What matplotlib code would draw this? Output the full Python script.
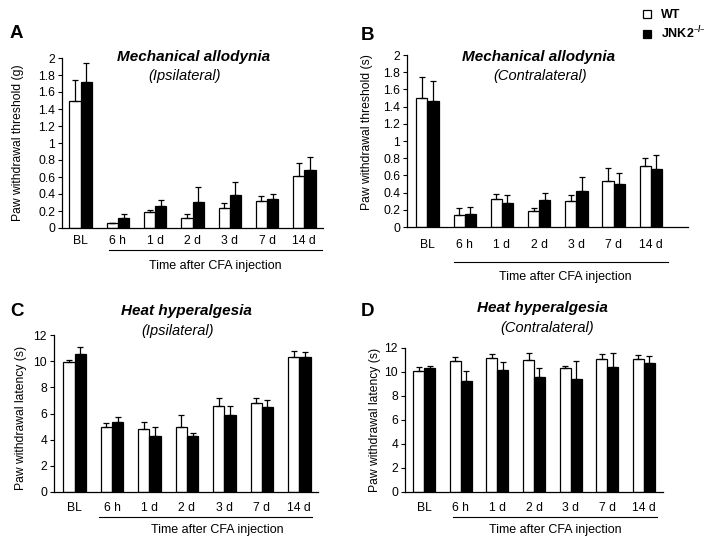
import matplotlib
matplotlib.use("Agg")
import matplotlib.pyplot as plt
import matplotlib.transforms as mtransforms
from matplotlib.patches import Patch
import numpy as np

plt.rcParams['font.family'] = ['Liberation Sans', 'DejaVu Sans']
plt.rcParams['mathtext.default'] = 'regular'

categories = ["BL", "6 h", "1 d", "2 d", "3 d", "7 d", "14 d"]
series_names = ["WT", "JNK2$^{\u2013/\u2013}$"]

# Panel A: mechanical allodynia, ipsilateral (g)
a_wt = [1.50, 0.055, 0.19, 0.12, 0.235, 0.32, 0.61]
a_wt_err = [0.24, 0.008, 0.02, 0.04, 0.06, 0.06, 0.15]
a_ko = [1.72, 0.12, 0.255, 0.31, 0.385, 0.34, 0.68]
a_ko_err = [0.22, 0.04, 0.075, 0.17, 0.16, 0.06, 0.155]

# Panel B: mechanical allodynia, contralateral
b_wt = [1.50, 0.143, 0.325, 0.19, 0.30, 0.53, 0.708]
b_wt_err = [0.245, 0.074, 0.055, 0.027, 0.067, 0.155, 0.092]
b_ko = [1.466, 0.155, 0.282, 0.317, 0.414, 0.50, 0.677]
b_ko_err = [0.234, 0.081, 0.093, 0.083, 0.162, 0.123, 0.166]

# Panel C: heat hyperalgesia, ipsilateral (s)
c_wt = [9.93, 5.0, 4.8, 5.0, 6.54, 6.77, 10.34]
c_wt_err = [0.15, 0.31, 0.56, 0.85, 0.61, 0.45, 0.41]
c_ko = [10.52, 5.36, 4.26, 4.26, 5.92, 6.51, 10.29]
c_ko_err = [0.53, 0.41, 0.72, 0.26, 0.62, 0.56, 0.38]

# Panel D: heat hyperalgesia, contralateral (s)
d_wt = [10.06, 10.88, 11.19, 10.97, 10.33, 11.05, 11.05]
d_wt_err = [0.38, 0.39, 0.33, 0.63, 0.19, 0.47, 0.39]
d_ko = [10.30, 9.25, 10.14, 9.56, 9.45, 10.44, 10.75]
d_ko_err = [0.22, 0.83, 0.66, 0.74, 1.43, 1.11, 0.58]

mech_ticks = [0, 0.2, 0.4, 0.6, 0.8, 1, 1.2, 1.4, 1.6, 1.8, 2]
mech_ticklabels = ["0", "0.2", "0.4", "0.6", "0.8", "1", "1.2", "1.4", "1.6", "1.8", "2"]
heat_ticks = [0, 2, 4, 6, 8, 10, 12]
heat_ticklabels = ["0", "2", "4", "6", "8", "10", "12"]

W, H = 715, 547
fig = plt.figure(figsize=(W / 100, H / 100), dpi=100)

def rect(l, r, t, b):
    return [l / W, 1 - b / H, (r - l) / W, (b - t) / H]

def px(x):
    return x / W

def py(y):
    return 1 - y / H

panels = [
    dict(rect=rect(62, 323, 58, 228), wt=a_wt, we=a_wt_err, ko=a_ko, ke=a_ko_err,
         ylim=(0, 2), ticks=mech_ticks, tl=mech_ticklabels, xlim=(-0.5, 6.5),
         ylabel="Paw withdrawal threshold (g)", ylc=(-0.146, 0.5), pad=5,
         br=(0.75, 6.48, -0.129), xl=(0.586, -0.224),
         t1="Mechanical allodynia", t1p=(194, 57), t2="(Ipsilateral)", t2p=(185, 76),
         letter="A", lp=(16, 33)),
    dict(rect=rect(407, 688, 55, 227), wt=b_wt, we=b_wt_err, ko=b_ko, ke=b_ko_err,
         ylim=(0, 2), ticks=mech_ticks, tl=mech_ticklabels, xlim=(-0.55, 7.0),
         ylabel="Paw withdrawal threshold (s)", ylc=(-0.121, 0.55), pad=8.5,
         br=(0.7, 6.46, -0.203), xl=(0.562, -0.291),
         t1="Mechanical allodynia", t1p=(539, 57), t2="(Contralateral)", t2p=(540, 76),
         letter="B", lp=(368, 35)),
    dict(rect=rect(54, 318, 335, 492), wt=c_wt, we=c_wt_err, ko=c_ko, ke=c_ko_err,
         ylim=(0, 12), ticks=heat_ticks, tl=heat_ticklabels, xlim=(-0.55, 6.5),
         ylabel="Paw withdrawal latency (s)", ylc=(-0.102, 0.47), pad=7.5,
         br=(0.64, 6.35, -0.159), xl=(0.617, -0.242),
         t1="Heat hyperalgesia", t1p=(186, 311), t2="(Ipsilateral)", t2p=(178, 331),
         letter="C", lp=(17, 312)),
    dict(rect=rect(405, 663, 348, 492), wt=d_wt, we=d_wt_err, ko=d_ko, ke=d_ko_err,
         ylim=(0, 12), ticks=heat_ticks, tl=heat_ticklabels, xlim=(-0.52, 6.52),
         ylabel="Paw withdrawal latency (s)", ylc=(-0.093, 0.5), pad=7.5,
         br=(0.79, 6.35, -0.174), xl=(0.581, -0.264),
         t1="Heat hyperalgesia", t1p=(542, 308), t2="(Contralateral)", t2p=(547, 328),
         letter="D", lp=(368, 311)),
]

x = np.arange(len(categories))
bw = 0.3
for p in panels:
    ax = fig.add_axes(p["rect"])
    ax.bar(x - bw / 2, p["wt"], bw, color="white", edgecolor="black", linewidth=0.9,
           yerr=[np.zeros(len(x)), p["we"]], capsize=2.5,
           error_kw=dict(elinewidth=0.9, capthick=0.9, ecolor="black"), zorder=2)
    ax.bar(x + bw / 2, p["ko"], bw, color="black", edgecolor="black", linewidth=0.9,
           yerr=[np.zeros(len(x)), p["ke"]], capsize=2.5,
           error_kw=dict(elinewidth=0.9, capthick=0.9, ecolor="black"), zorder=2)
    ax.set_xlim(*p["xlim"])
    ax.set_ylim(*p["ylim"])
    ax.set_yticks(p["ticks"])
    ax.set_yticklabels(p["tl"], fontsize=8.7)
    ax.set_xticks(x)
    ax.set_xticklabels(categories, fontsize=8.7)
    ax.tick_params(axis="x", length=0, pad=p["pad"])
    ax.tick_params(axis="y", length=3, width=0.8, pad=2)
    for s in ["top", "right"]:
        ax.spines[s].set_visible(False)
    for s in ["left", "bottom"]:
        ax.spines[s].set_linewidth(0.9)
    ax.set_ylabel(p["ylabel"], fontsize=8.7)
    ax.yaxis.set_label_coords(*p["ylc"])
    trans = mtransforms.blended_transform_factory(ax.transData, ax.transAxes)
    x0, x1, yb = p["br"]
    ax.plot([x0, x1], [yb, yb], color="black", linewidth=0.8, transform=trans, clip_on=False)
    ax.text(p["xl"][0], p["xl"][1], "Time after CFA injection", transform=ax.transAxes,
            ha="center", va="center", fontsize=9)
    fig.text(px(p["t1p"][0]), py(p["t1p"][1]), p["t1"], ha="center", va="center",
             fontsize=11, fontweight="bold", fontstyle="italic")
    fig.text(px(p["t2p"][0]), py(p["t2p"][1]), p["t2"], ha="center", va="center",
             fontsize=10.5, fontstyle="italic")
    fig.text(px(p["lp"][0]), py(p["lp"][1]), p["letter"], ha="center", va="center",
             fontsize=13.5, fontweight="bold")

handles = [Patch(facecolor="white", edgecolor="black", linewidth=0.9),
           Patch(facecolor="black", edgecolor="black", linewidth=0.9)]
fig.legend(handles, series_names, loc="upper left", bbox_to_anchor=(px(643), py(9.5)),
           frameon=False, handlelength=0.65, handleheight=0.65, handletextpad=0.8,
           labelspacing=0.25, borderpad=0, borderaxespad=0,
           prop=dict(size=9, weight="bold"))

fig.savefig("out.png", dpi=100)
